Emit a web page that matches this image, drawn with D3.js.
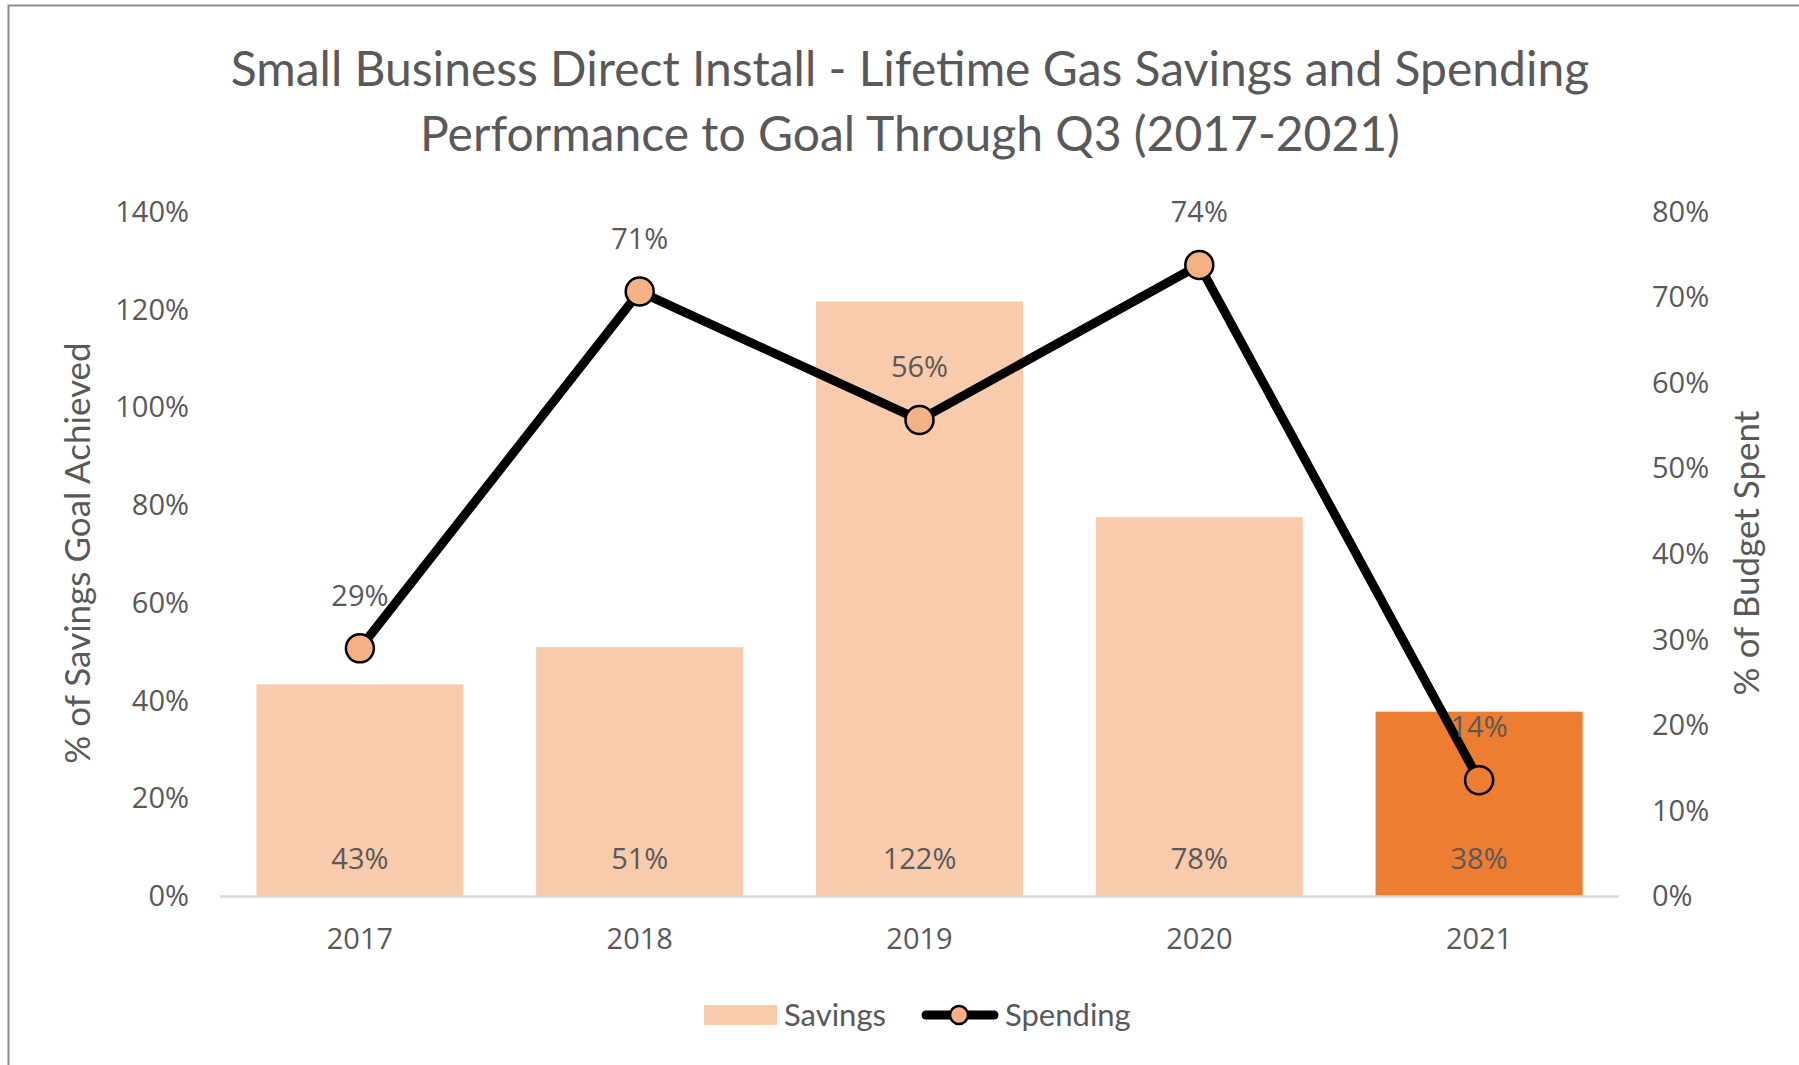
<!DOCTYPE html>
<html lang="en">
<head>
  <meta charset="utf-8">
    <title>Small Business Direct Install - Gas Savings and Spending</title>
    <script type="text/javascript" src="https://d3js.org/d3.v7.min.js"></script>
    <style type="text/css">
      body { margin: 0; background: #fff; }
      .tick text { fill: #595959; }
    </style>
</head>
<body>
  <script type="text/javascript">

        // chart data
        var years = ["2017", "2018", "2019", "2020", "2021"];
        var savings = [0.434, 0.51, 1.217, 0.776, 0.378];
        var spending = [0.29, 0.707, 0.557, 0.738, 0.136];
        var leftTicks = [0, 0.2, 0.4, 0.6, 0.8, 1.0, 1.2, 1.4];
        var rightTicks = [0, 0.1, 0.2, 0.3, 0.4, 0.5, 0.6, 0.7, 0.8];
        var titleLines = ["Small Business Direct Install - Lifetime Gas Savings and Spending",
                          "Performance to Goal Through Q3 (2017-2021)"];

        var width = 1799, height = 1065;
        var textColor = "#595959";
        var lightFill = "#F8CBAD", darkFill = "#ED7D31", markerFill = "#F4B183";
        var labelFont = "'Open Sans', sans-serif";
        var titleFont = "Lato, sans-serif";
        var labelSize = 29;

        var svg = d3.select("body")
            .append("svg")
            .attr("width", width)
            .attr("height", height);

        // chart frame (only top and left edges are inside the picture)
        svg.append("rect")
            .attr("x", 8.5).attr("y", 5.5)
            .attr("width", width + 20).attr("height", height + 20)
            .attr("fill", "none")
            .attr("stroke", "#8c8c8c")
            .attr("stroke-width", 2);

        var x = d3.scaleBand()
            .domain(years)
            .range([220, 1619])
            .paddingInner(0.26)
            .paddingOuter(0.13);

        var yL = d3.scaleLinear().domain([0, 1.4]).range([896.5, 212]);
        var yR = d3.scaleLinear().domain([0, 0.8]).range([896.5, 212]);
        var pct = d3.format(".0%");

        // title
        svg.append("text")
            .attr("x", 910)
            .attr("text-anchor", "middle")
            .attr("font-family", titleFont)
            .attr("font-size", 48)
            .attr("fill", textColor)
            .selectAll("tspan")
            .data(titleLines)
            .enter()
            .append("tspan")
            .attr("x", 910)
            .attr("y", function(d, i) { return 86 + i * 65; })
            .text(function(d) { return d; });

        // bars
        svg.selectAll(".bar")
            .data(years)
            .enter()
            .append("rect")
            .attr("class", "bar")
            .attr("x", function(d) { return x(d); })
            .attr("width", x.bandwidth())
            .attr("y", function(d, i) { return yL(savings[i]); })
            .attr("height", function(d, i) { return yL(0) - yL(savings[i]); })
            .attr("fill", function(d, i) { return i == years.length - 1 ? darkFill : lightFill; });

        // axes
        var left = svg.append("g")
            .attr("transform", "translate(220,0)")
            .call(d3.axisLeft(yL).tickValues(leftTicks).tickFormat(pct).tickSize(0).tickPadding(31));
        var right = svg.append("g")
            .attr("transform", "translate(1619,0)")
            .call(d3.axisRight(yR).tickValues(rightTicks).tickFormat(pct).tickSize(0).tickPadding(33));
        var bottom = svg.append("g")
            .attr("transform", "translate(0," + yL(0) + ")")
            .call(d3.axisBottom(x).tickSize(0).tickPadding(32));

        [left, right, bottom].forEach(function(g) {
            g.select(".domain").remove();
            g.selectAll("text")
                .attr("font-family", labelFont)
                .attr("font-size", labelSize)
                .attr("fill", textColor);
        });

        svg.append("line")
            .attr("x1", 220).attr("x2", 1619)
            .attr("y1", yL(0)).attr("y2", yL(0))
            .attr("stroke", "#D9D9D9")
            .attr("stroke-width", 2.5);

        // axis titles
        svg.append("text")
            .attr("transform", "translate(90,553) rotate(-90)")
            .attr("text-anchor", "middle")
            .attr("font-family", titleFont)
            .attr("font-size", 35)
            .attr("fill", textColor)
            .text("% of Savings Goal Achieved");

        svg.append("text")
            .attr("transform", "translate(1759,553) rotate(-90)")
            .attr("text-anchor", "middle")
            .attr("font-family", titleFont)
            .attr("font-size", 35)
            .attr("fill", textColor)
            .text("% of Budget Spent");

        // bar labels
        svg.selectAll(".barLabel")
            .data(years)
            .enter()
            .append("text")
            .attr("x", function(d) { return x(d) + x.bandwidth() / 2; })
            .attr("y", yL(0) - 38)
            .attr("dy", "0.35em")
            .attr("text-anchor", "middle")
            .attr("font-family", labelFont)
            .attr("font-size", labelSize)
            .attr("fill", textColor)
            .text(function(d, i) { return pct(savings[i]); });

        // spending line
        var cx = function(d, i) { return x(years[i]) + x.bandwidth() / 2; };
        var line = d3.line()
            .x(cx)
            .y(function(d) { return yR(d); });

        svg.append("path")
            .datum(spending)
            .attr("d", line)
            .attr("fill", "none")
            .attr("stroke", "#000")
            .attr("stroke-width", 9)
            .attr("stroke-linejoin", "round");

        svg.selectAll(".dot")
            .data(spending)
            .enter()
            .append("circle")
            .attr("cx", cx)
            .attr("cy", function(d) { return yR(d); })
            .attr("r", 14)
            .attr("fill", function(d, i) { return i == spending.length - 1 ? darkFill : markerFill; })
            .attr("stroke", "#000")
            .attr("stroke-width", 2.5);

        svg.selectAll(".lineLabel")
            .data(spending)
            .enter()
            .append("text")
            .attr("x", cx)
            .attr("y", function(d) { return yR(d) - 53; })
            .attr("dy", "0.35em")
            .attr("text-anchor", "middle")
            .attr("font-family", labelFont)
            .attr("font-size", labelSize)
            .attr("fill", textColor)
            .text(function(d) { return pct(d); });

        // legend
        var legend = svg.append("g");
        legend.append("rect")
            .attr("x", 704).attr("y", 1005)
            .attr("width", 73).attr("height", 20)
            .attr("fill", lightFill);
        legend.append("text")
            .attr("x", 784).attr("y", 1015)
            .attr("dy", "0.35em")
            .attr("font-family", titleFont)
            .attr("font-size", 31)
            .attr("fill", textColor)
            .text("Savings");
        legend.append("line")
            .attr("x1", 926).attr("x2", 994)
            .attr("y1", 1015).attr("y2", 1015)
            .attr("stroke", "#000")
            .attr("stroke-width", 9)
            .attr("stroke-linecap", "round");
        legend.append("circle")
            .attr("cx", 959).attr("cy", 1015)
            .attr("r", 9)
            .attr("fill", markerFill)
            .attr("stroke", "#000")
            .attr("stroke-width", 2.5);
        legend.append("text")
            .attr("x", 1005).attr("y", 1015)
            .attr("dy", "0.35em")
            .attr("font-family", titleFont)
            .attr("font-size", 31)
            .attr("fill", textColor)
            .text("Spending");

  </script>
</body>
</html>
